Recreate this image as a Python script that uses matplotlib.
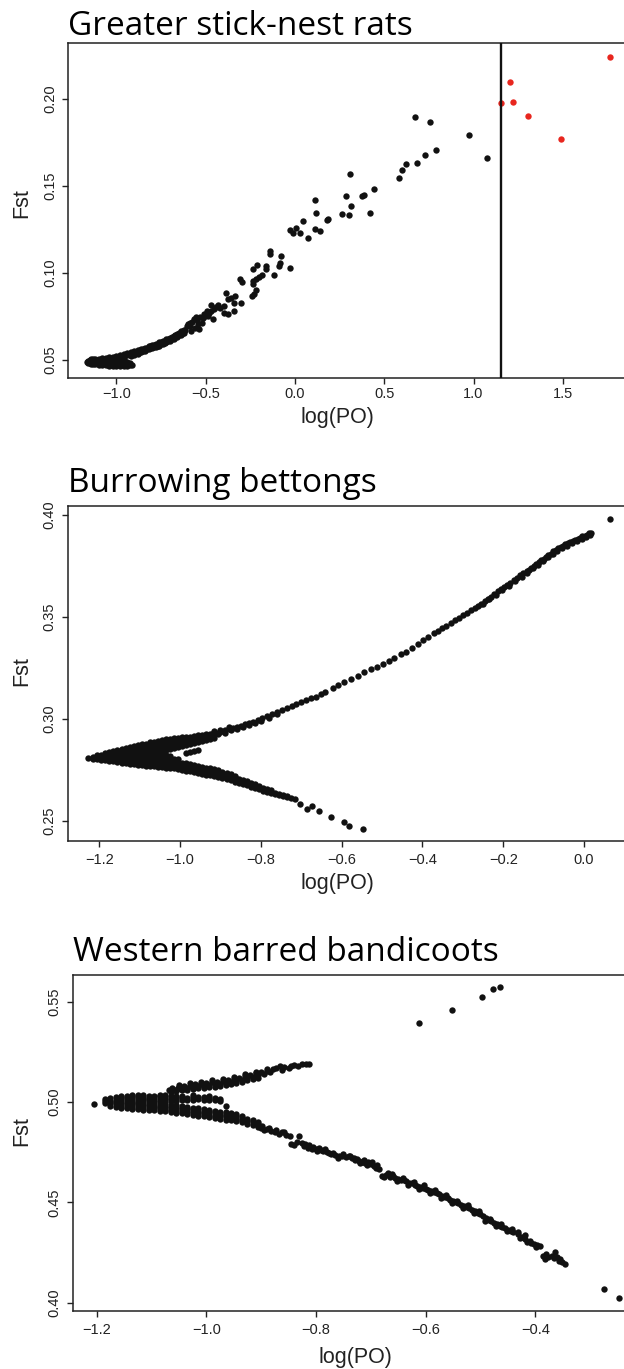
import matplotlib
matplotlib.use("Agg")
import matplotlib.pyplot as plt

# ---- Greater stick-nest rats ----
rats_vline = 1.152
rats_red = [(1.766, 0.2243), (1.206, 0.2098), (1.153, 0.1975), (1.220, 0.1981),
            (1.306, 0.1903), (1.489, 0.1771)]
rats_scatter = [
    (0.673, 0.1897), (0.757, 0.1867), (0.976, 0.1792), (1.077, 0.1662), (0.789, 0.1708),
    (0.727, 0.1681), (0.681, 0.1634), (0.622, 0.1629), (0.602, 0.1595), (0.580, 0.1544),
    (0.309, 0.1570), (0.442, 0.1486), (0.384, 0.1451), (0.376, 0.1442), (0.287, 0.1446),
    (0.316, 0.1385), (0.262, 0.1340), (0.300, 0.1334), (0.418, 0.1348), (0.113, 0.1421),
    (0.120, 0.1348), (0.184, 0.1309), (0.182, 0.1304), (0.044, 0.1298), (0.111, 0.1256),
    (0.142, 0.1240), (0.007, 0.1257), (-0.029, 0.1248), (-0.013, 0.1231), (0.029, 0.1231),
    (0.071, 0.1204), (-0.142, 0.1127), (-0.138, 0.1109), (-0.076, 0.1096), (-0.082, 0.1056),
    (-0.087, 0.1042), (-0.027, 0.1029), (-0.118, 0.0990), (-0.160, 0.1042), (-0.164, 0.1021),
    (-0.213, 0.1046), (-0.236, 0.1025), (-0.184, 0.0988), (-0.200, 0.0975), (-0.216, 0.0965),
    (-0.238, 0.0952), (-0.236, 0.0938), (-0.307, 0.0965), (-0.298, 0.0950), (-0.220, 0.0902),
    (-0.229, 0.0879), (-0.242, 0.0869), (-0.338, 0.0871), (-0.360, 0.0856), (-0.300, 0.0827),
    (-0.344, 0.0827), (-0.387, 0.0888), (-0.378, 0.0850), (-0.471, 0.0817), (-0.431, 0.0817),
    (-0.400, 0.0811), (-0.418, 0.0798), (-0.396, 0.0769), (-0.344, 0.0782), (-0.373, 0.0763),
    (-0.493, 0.0782), (-0.511, 0.0767), (-0.489, 0.0754), (-0.462, 0.0734), (-0.556, 0.0748),
    (-0.522, 0.0715), (-0.544, 0.0709), (-0.589, 0.0713), (-0.604, 0.0696), (-0.560, 0.0682),
    (-0.538, 0.0677), (-0.582, 0.0667), (-0.618, 0.0671), (-0.600, 0.0706), (-0.590, 0.0694),
    (-0.575, 0.0722), (-0.565, 0.0739), (-0.548, 0.0729), (-0.530, 0.0746), (-0.515, 0.0742),
    (-0.505, 0.0756), (-0.480, 0.0769), (-0.470, 0.0784), (-0.455, 0.0794), (-0.445, 0.0806),
]
rats_blob = [
    (-1.165, [0.0490]),
    (-1.16, [0.0485, 0.0497]),
    (-1.15, [0.0483, 0.0495, 0.0503]),
    (-1.14, [0.0480, 0.0492, 0.0504]),
    (-1.13, [0.0478, 0.0490, 0.0502, 0.0507]),
    (-1.12, [0.0476, 0.0488, 0.0500, 0.0508]),
    (-1.10, [0.0473, 0.0485, 0.0497, 0.0509]),
    (-1.08, [0.0471, 0.0483, 0.0495, 0.0507, 0.0512]),
    (-1.06, [0.0470, 0.0482, 0.0494, 0.0506, 0.0514]),
    (-1.04, [0.0469, 0.0481, 0.0493, 0.0505, 0.0516]),
    (-1.02, [0.0469, 0.0481, 0.0493, 0.0505, 0.0518]),
    (-1.00, [0.0469, 0.0481, 0.0493, 0.0505, 0.0517, 0.0522]),
    (-0.98, [0.0469, 0.0481, 0.0493, 0.0505, 0.0517, 0.0527]),
    (-0.96, [0.0469, 0.0481, 0.0493, 0.0507, 0.0521, 0.0533]),
    (-0.94, [0.0469, 0.0481, 0.0492, 0.0530, 0.0540]),
    (-0.925, [0.0470, 0.0481]),
    (-0.915, [0.0473]),
]
rats_band = [
    (-0.92, [0.0526, 0.0535, 0.0544]), (-0.91, [0.0533, 0.0543]),
    (-0.90, [0.0532, 0.0541, 0.0550]), (-0.89, [0.0539, 0.0549]),
    (-0.88, [0.0538, 0.0547, 0.0556]), (-0.87, [0.0546, 0.0556]),
    (-0.86, [0.0546, 0.0555, 0.0564]), (-0.85, [0.0554, 0.0564]),
    (-0.84, [0.0554, 0.0563, 0.0572]), (-0.83, [0.0562, 0.0572]),
    (-0.82, [0.0562, 0.0571, 0.0580]), (-0.81, [0.0569, 0.0579]),
    (-0.80, [0.0569, 0.0578, 0.0587]), (-0.79, [0.0576, 0.0586]),
    (-0.78, [0.0576, 0.0585, 0.0594]), (-0.77, [0.0584, 0.0594]),
    (-0.76, [0.0584, 0.0593, 0.0602]), (-0.75, [0.0592, 0.0602]),
    (-0.74, [0.0593, 0.0602, 0.0611]), (-0.73, [0.0601, 0.0611]),
    (-0.72, [0.0602, 0.0611, 0.0620]), (-0.71, [0.0611, 0.0621]),
    (-0.70, [0.0612, 0.0621, 0.0630]), (-0.69, [0.0621, 0.0632]),
    (-0.68, [0.0623, 0.0632, 0.0641]), (-0.67, [0.0633, 0.0644]),
    (-0.66, [0.0635, 0.0644, 0.0653]), (-0.65, [0.0645, 0.0656]),
    (-0.64, [0.0647, 0.0656, 0.0665]), (-0.63, [0.0656, 0.0667]),
    (-0.62, [0.0658, 0.0667, 0.0676]),
]

# ---- Burrowing bettongs ----
bett_outlier = [(0.065, 0.3979)]
bett_upper = [
    (0.018, 0.3915), (0.012, 0.3912), (0.008, 0.3903), (0.002, 0.3900), (-0.004, 0.3896),
    (-0.010, 0.3888), (-0.016, 0.3885), (-0.022, 0.3878), (-0.028, 0.3873), (-0.034, 0.3868),
    (-0.040, 0.3862), (-0.046, 0.3858), (-0.052, 0.3850), (-0.058, 0.3842), (-0.064, 0.3838),
    (-0.070, 0.3828), (-0.076, 0.3822), (-0.082, 0.3812), (-0.088, 0.3806), (-0.094, 0.3796),
    (-0.100, 0.3786), (-0.106, 0.3778), (-0.112, 0.3768), (-0.118, 0.3760), (-0.124, 0.3750),
    (-0.130, 0.3740), (-0.136, 0.3733), (-0.142, 0.3724), (-0.150, 0.3714), (-0.158, 0.3705),
    (-0.166, 0.3692), (-0.174, 0.3680), (-0.182, 0.3668), (-0.190, 0.3657), (-0.198, 0.3646),
    (-0.206, 0.3636), (-0.214, 0.3626), (-0.222, 0.3614), (-0.230, 0.3600), (-0.238, 0.3590),
    (-0.246, 0.3578), (-0.254, 0.3566), (-0.262, 0.3557), (-0.270, 0.3546), (-0.280, 0.3535),
    (-0.290, 0.3522), (-0.300, 0.3509), (-0.310, 0.3497), (-0.320, 0.3484), (-0.330, 0.3472),
    (-0.342, 0.3458), (-0.352, 0.3446), (-0.362, 0.3432), (-0.372, 0.3420), (-0.385, 0.3402),
    (-0.398, 0.3387), (-0.410, 0.3370), (-0.425, 0.3348), (-0.440, 0.3330), (-0.452, 0.3318),
    (-0.470, 0.3300), (-0.482, 0.3287), (-0.498, 0.3272), (-0.512, 0.3257), (-0.528, 0.3245),
    (-0.545, 0.3230), (-0.560, 0.3210), (-0.578, 0.3197), (-0.595, 0.3180), (-0.608, 0.3167),
    (-0.622, 0.3152), (-0.640, 0.3135), (-0.652, 0.3122), (-0.664, 0.3110), (-0.676, 0.3102),
    (-0.688, 0.3093), (-0.700, 0.3082), (-0.712, 0.3072), (-0.724, 0.3062), (-0.736, 0.3054),
    (-0.748, 0.3043), (-0.760, 0.3034), (-0.772, 0.3024), (-0.784, 0.3015), (-0.796, 0.3006),
    (-0.808, 0.2997), (-0.820, 0.2988), (-0.830, 0.2981), (-0.840, 0.2975), (-0.850, 0.2968),
    (-0.860, 0.2962), (-0.870, 0.2956), (-0.880, 0.2950), (-0.890, 0.2944), (-0.900, 0.2938),
    (-0.910, 0.2932), (-0.920, 0.2926),
    (0.014, 0.3904), (0.004, 0.3892), (-0.006, 0.3882), (-0.018, 0.3872), (-0.030, 0.3862),
    (-0.042, 0.3850), (-0.054, 0.3838), (-0.066, 0.3826), (-0.078, 0.3810), (-0.090, 0.3795),
    (-0.102, 0.3775), (-0.114, 0.3757), (-0.126, 0.3740), (-0.140, 0.3716), (-0.154, 0.3698),
    (-0.170, 0.3676), (-0.186, 0.3652), (-0.202, 0.3632), (-0.218, 0.3610), (-0.234, 0.3588),
    (-0.250, 0.3566), (-0.760, 0.3024), (-0.780, 0.3006), (-0.800, 0.2990), (-0.815, 0.2980),
    (-0.830, 0.2972), (-0.845, 0.2962), (-0.860, 0.2953), (-0.875, 0.2945), (-0.890, 0.2934),
    (-0.905, 0.2925), (-0.918, 0.2915), (-0.880, 0.2962), (-0.900, 0.2948), (-0.915, 0.2940),
]
bett_blob = [
    (-1.228, [0.2807]),
    (-1.215, [0.2806, 0.2816]),
    (-1.205, [0.2803, 0.2815, 0.2824]),
    (-1.195, [0.2800, 0.2812, 0.2824]),
    (-1.185, [0.2798, 0.2810, 0.2822, 0.2832]),
    (-1.175, [0.2796, 0.2808, 0.2820, 0.2832, 0.2840]),
    (-1.165, [0.2793, 0.2805, 0.2817, 0.2829, 0.2841]),
    (-1.155, [0.2790, 0.2802, 0.2814, 0.2826, 0.2838, 0.2848]),
    (-1.145, [0.2787, 0.2799, 0.2811, 0.2823, 0.2835, 0.2847, 0.2854]),
    (-1.135, [0.2784, 0.2796, 0.2808, 0.2820, 0.2832, 0.2844, 0.2856]),
    (-1.125, [0.2781, 0.2793, 0.2805, 0.2817, 0.2829, 0.2841, 0.2853, 0.2862]),
    (-1.115, [0.2778, 0.2790, 0.2802, 0.2814, 0.2826, 0.2838, 0.2850, 0.2862, 0.2868]),
    (-1.105, [0.2776, 0.2788, 0.2800, 0.2812, 0.2824, 0.2836, 0.2848, 0.2860, 0.2872]),
    (-1.095, [0.2774, 0.2786, 0.2798, 0.2810, 0.2822, 0.2834, 0.2846, 0.2858, 0.2870, 0.2878]),
    (-1.085, [0.2772, 0.2784, 0.2796, 0.2808, 0.2820, 0.2832, 0.2844, 0.2856, 0.2868, 0.2880]),
    (-1.075, [0.2770, 0.2782, 0.2794, 0.2806, 0.2818, 0.2830, 0.2842, 0.2854, 0.2866, 0.2878, 0.2886]),
    (-1.065, [0.2768, 0.2780, 0.2792, 0.2804, 0.2816, 0.2828, 0.2840, 0.2852, 0.2864, 0.2876, 0.2888]),
    (-1.055, [0.2766, 0.2778, 0.2790, 0.2802, 0.2814, 0.2826, 0.2838, 0.2850, 0.2862, 0.2874, 0.2886, 0.2894]),
    (-1.045, [0.2764, 0.2776, 0.2788, 0.2800, 0.2812, 0.2824, 0.2836, 0.2848, 0.2860, 0.2872, 0.2884, 0.2896]),
    (-1.035, [0.2762, 0.2774, 0.2786, 0.2798, 0.2810, 0.2822, 0.2846, 0.2858, 0.2870, 0.2882, 0.2894, 0.2902]),
    (-1.025, [0.2760, 0.2772, 0.2784, 0.2796, 0.2808, 0.2820, 0.2852, 0.2864, 0.2876, 0.2888, 0.2900]),
    (-1.015, [0.2758, 0.2770, 0.2782, 0.2794, 0.2806, 0.2858, 0.2870, 0.2882, 0.2894, 0.2905]),
    (-1.005, [0.2755, 0.2767, 0.2779, 0.2791, 0.2802, 0.2862, 0.2874, 0.2886, 0.2898, 0.2908]),
    (-0.995, [0.2750, 0.2762, 0.2774, 0.2787, 0.2868, 0.2880, 0.2892, 0.2904, 0.2912]),
    (-0.985, [0.2747, 0.2759, 0.2771, 0.2784, 0.2835, 0.2874, 0.2886, 0.2898, 0.2910]),
    (-0.975, [0.2744, 0.2756, 0.2768, 0.2781, 0.2838, 0.2878, 0.2890, 0.2902, 0.2914]),
    (-0.965, [0.2740, 0.2752, 0.2764, 0.2777, 0.2842, 0.2884, 0.2896, 0.2908, 0.2918]),
    (-0.955, [0.2736, 0.2748, 0.2760, 0.2772, 0.2848, 0.2888, 0.2900, 0.2912, 0.2920]),
    (-0.945, [0.2732, 0.2744, 0.2756, 0.2767, 0.2892, 0.2904, 0.2916, 0.2924]),
    (-0.935, [0.2728, 0.2740, 0.2752, 0.2762, 0.2896, 0.2908, 0.2920, 0.2928]),
    (-0.925, [0.2724, 0.2736, 0.2748, 0.2758, 0.2902, 0.2914, 0.2926]),
    (-0.915, [0.2720, 0.2732, 0.2744, 0.2753, 0.2907, 0.2920, 0.2930]),
]
bett_lower = [
    (-0.905, [0.2716, 0.2727, 0.2738, 0.2748]), (-0.895, [0.2711, 0.2722, 0.2733, 0.2742]),
    (-0.885, [0.2705, 0.2716, 0.2727, 0.2736]), (-0.875, [0.2699, 0.2710, 0.2721, 0.2729]),
    (-0.865, [0.2693, 0.2704, 0.2715, 0.2722]), (-0.855, [0.2688, 0.2698, 0.2708]),
    (-0.845, [0.2681, 0.2691, 0.2701]), (-0.835, [0.2675, 0.2685, 0.2695]),
    (-0.825, [0.2668, 0.2678, 0.2688]), (-0.815, [0.2662, 0.2671, 0.2680]),
    (-0.805, [0.2655, 0.2663, 0.2671]), (-0.795, [0.2649, 0.2657, 0.2664]),
    (-0.785, [0.2643, 0.2650, 0.2657]), (-0.775, [0.2638, 0.2644, 0.2650]),
    (-0.765, [0.2632, 0.2638]), (-0.755, [0.2626, 0.2632]),
    (-0.745, [0.2621, 0.2627]), (-0.735, [0.2616, 0.2621]),
    (-0.725, [0.2611]), (-0.715, [0.2606]),
]
bett_tail = [(-0.702, 0.2582), (-0.687, 0.2557), (-0.673, 0.2574), (-0.655, 0.2549),
             (-0.626, 0.2521), (-0.594, 0.2493), (-0.581, 0.2477), (-0.548, 0.2461)]

# ---- Western barred bandicoots ----
band_outliers = [(-0.464, 0.5575), (-0.477, 0.5565), (-0.497, 0.5525), (-0.551, 0.5457),
                 (-0.612, 0.5392), (-0.274, 0.4070), (-0.248, 0.4022)]
band_blob = [
    (-1.205, [0.4988]),
    (-1.185, [0.4994, 0.5006, 0.5016]),
    (-1.175, [0.4982, 0.4994, 0.5006, 0.5018]),
    (-1.165, [0.4976, 0.4988, 0.5000, 0.5012, 0.5024]),
    (-1.155, [0.4972, 0.4984, 0.4996, 0.5008, 0.5020, 0.5030]),
    (-1.145, [0.4970, 0.4982, 0.4994, 0.5006, 0.5018, 0.5030]),
    (-1.135, [0.4966, 0.4978, 0.4990, 0.5002, 0.5014, 0.5026, 0.5034]),
    (-1.125, [0.4964, 0.4976, 0.4988, 0.5000, 0.5012, 0.5024, 0.5034]),
    (-1.115, [0.4962, 0.4974, 0.4986, 0.4998, 0.5010, 0.5022, 0.5034]),
    (-1.105, [0.4960, 0.4972, 0.4984, 0.4996, 0.5008, 0.5020, 0.5032]),
    (-1.095, [0.4958, 0.4970, 0.4982, 0.4994, 0.5006, 0.5018, 0.5030]),
    (-1.085, [0.4956, 0.4968, 0.4980, 0.4992, 0.5004, 0.5016, 0.5028, 0.5036]),
    (-1.075, [0.4953, 0.4965, 0.4977, 0.4989, 0.5001, 0.5013, 0.5025, 0.5034]),
    (-1.065, [0.4950, 0.4962, 0.4974, 0.4986, 0.5004, 0.5016, 0.5028]),
    (-1.055, [0.4947, 0.4959, 0.4971, 0.4983, 0.5006, 0.5018, 0.5030]),
    (-1.045, [0.4944, 0.4956, 0.4968, 0.4980, 0.5008, 0.5020, 0.5030]),
    (-1.035, [0.4940, 0.4952, 0.4964, 0.4976, 0.5010, 0.5022]),
    (-1.025, [0.4936, 0.4948, 0.4960, 0.4972, 0.5012, 0.5024, 0.5034]),
    (-1.015, [0.4932, 0.4944, 0.4956, 0.4968, 0.5013, 0.5025]),
    (-1.005, [0.4928, 0.4940, 0.4952, 0.4964, 0.5012, 0.5024]),
    (-0.995, [0.4924, 0.4936, 0.4948, 0.4960, 0.5010, 0.5022, 0.5030]),
    (-0.985, [0.4920, 0.4932, 0.4944, 0.4956, 0.5008, 0.5020]),
    (-0.975, [0.4916, 0.4928, 0.4940, 0.4952, 0.5005, 0.5016]),
    (-0.965, [0.4912, 0.4924, 0.4936, 0.4948, 0.4980]),
    (-0.955, [0.4908, 0.4920, 0.4932, 0.4944]),
    (-0.945, [0.4904, 0.4916, 0.4928, 0.4938]),
    (-0.935, [0.4898, 0.4910, 0.4922, 0.4932]),
    (-0.925, [0.4892, 0.4904, 0.4916]),
    (-0.915, [0.4886, 0.4898, 0.4908]),
    (-0.905, [0.4876, 0.4888, 0.4898]),
]
band_upper = [
    (-1.068, 0.5062), (-1.062, 0.5070), (-1.058, 0.5060), (-1.052, 0.5072), (-1.046, 0.5064),
    (-1.040, 0.5078), (-1.035, 0.5068), (-1.030, 0.5082), (-1.025, 0.5072), (-1.020, 0.5088),
    (-1.015, 0.5078), (-1.010, 0.5092), (-1.005, 0.5080), (-1.000, 0.5096), (-0.995, 0.5085),
    (-0.990, 0.5098), (-0.985, 0.5088), (-0.980, 0.5102), (-0.975, 0.5092), (-0.970, 0.5106),
    (-0.965, 0.5096), (-0.960, 0.5110), (-0.955, 0.5100), (-0.950, 0.5115), (-0.945, 0.5106),
    (-0.940, 0.5122), (-0.935, 0.5112), (-0.930, 0.5130), (-0.925, 0.5120), (-0.920, 0.5136),
    (-0.915, 0.5126), (-0.910, 0.5142), (-0.905, 0.5134), (-0.900, 0.5150), (-0.895, 0.5140),
    (-0.890, 0.5155), (-0.884, 0.5148), (-0.878, 0.5162), (-0.872, 0.5170), (-0.866, 0.5180),
    (-0.862, 0.5160), (-0.858, 0.5172), (-0.850, 0.5168), (-0.845, 0.5180), (-0.840, 0.5186),
    (-0.832, 0.5178), (-0.825, 0.5188), (-0.818, 0.5190), (-0.812, 0.5190),
    (-1.065, 0.5052), (-1.055, 0.5055), (-1.045, 0.5058), (-1.035, 0.5060), (-1.025, 0.5064),
    (-1.015, 0.5068), (-1.005, 0.5070), (-0.995, 0.5074), (-0.985, 0.5076), (-0.975, 0.5080),
    (-0.965, 0.5084), (-0.955, 0.5088), (-0.945, 0.5094), (-0.935, 0.5100), (-0.925, 0.5108),
    (-0.915, 0.5114), (-0.905, 0.5120), (-1.050, 0.5084), (-1.030, 0.5094), (-1.010, 0.5102),
    (-0.990, 0.5108), (-0.970, 0.5114), (-0.950, 0.5124), (-0.930, 0.5140), (-0.910, 0.5150),
    (-0.890, 0.5164),
]
band_lower = [
    (-0.900, 0.4868), (-0.895, 0.4858), (-0.890, 0.4866), (-0.882, 0.4855), (-0.875, 0.4848),
    (-0.868, 0.4842), (-0.862, 0.4850), (-0.855, 0.4836), (-0.848, 0.4828), (-0.845, 0.4790),
    (-0.840, 0.4785), (-0.831, 0.4831), (-0.822, 0.4780), (-0.815, 0.4772), (-0.808, 0.4768),
    (-0.800, 0.4765), (-0.795, 0.4772), (-0.788, 0.4758), (-0.780, 0.4750), (-0.772, 0.4740),
    (-0.765, 0.4736), (-0.758, 0.4731), (-0.750, 0.4742), (-0.745, 0.4728), (-0.740, 0.4733),
    (-0.735, 0.4720), (-0.728, 0.4712), (-0.722, 0.4706), (-0.716, 0.4702), (-0.710, 0.4696),
    (-0.705, 0.4702), (-0.700, 0.4690), (-0.695, 0.4680), (-0.690, 0.4672), (-0.685, 0.4668),
    (-0.680, 0.4632), (-0.672, 0.4636), (-0.665, 0.4628), (-0.660, 0.4630), (-0.655, 0.4622),
    (-0.650, 0.4618), (-0.645, 0.4613), (-0.640, 0.4610), (-0.635, 0.4604), (-0.630, 0.4598),
    (-0.625, 0.4595), (-0.620, 0.4588), (-0.615, 0.4582), (-0.610, 0.4578), (-0.605, 0.4572),
    (-0.600, 0.4566), (-0.595, 0.4560), (-0.590, 0.4556), (-0.585, 0.4550), (-0.580, 0.4545),
    (-0.575, 0.4540), (-0.570, 0.4532), (-0.565, 0.4526), (-0.560, 0.4520), (-0.555, 0.4512),
    (-0.550, 0.4505), (-0.545, 0.4500), (-0.540, 0.4494), (-0.535, 0.4488), (-0.530, 0.4482),
    (-0.525, 0.4476), (-0.520, 0.4470), (-0.515, 0.4462), (-0.510, 0.4455), (-0.505, 0.4447),
    (-0.500, 0.4440), (-0.495, 0.4430), (-0.490, 0.4420), (-0.485, 0.4412), (-0.480, 0.4405),
    (-0.475, 0.4398), (-0.470, 0.4390), (-0.465, 0.4384), (-0.460, 0.4377), (-0.455, 0.4370),
    (-0.450, 0.4362), (-0.445, 0.4355), (-0.440, 0.4350), (-0.432, 0.4340), (-0.425, 0.4328),
    (-0.419, 0.4337), (-0.415, 0.4300), (-0.410, 0.4305), (-0.403, 0.4290), (-0.396, 0.4285),
    (-0.392, 0.4282), (-0.382, 0.4219), (-0.376, 0.4226), (-0.370, 0.4233), (-0.363, 0.4252),
    (-0.360, 0.4225), (-0.357, 0.4208), (-0.352, 0.4200), (-0.346, 0.4193),
    (-0.662, 0.4640), (-0.652, 0.4608), (-0.642, 0.4622), (-0.632, 0.4586), (-0.622, 0.4600),
    (-0.612, 0.4568), (-0.602, 0.4584), (-0.592, 0.4545), (-0.582, 0.4560), (-0.572, 0.4520),
    (-0.562, 0.4534), (-0.552, 0.4498), (-0.542, 0.4508), (-0.532, 0.4470), (-0.522, 0.4488),
    (-0.512, 0.4445), (-0.502, 0.4455), (-0.492, 0.4408), (-0.482, 0.4418), (-0.472, 0.4380),
    (-0.462, 0.4392), (-0.452, 0.4358), (-0.442, 0.4366), (-0.712, 0.4710), (-0.720, 0.4696),
    (-0.730, 0.4722), (-0.760, 0.4722), (-0.790, 0.4760), (-0.805, 0.4778), (-0.820, 0.4790),
    (-0.898, 0.4880), (-0.886, 0.4872), (-0.872, 0.4860), (-0.858, 0.4850), (-0.835, 0.4800),
    (-0.826, 0.4795), (-0.812, 0.4784), (-0.798, 0.4755), (-0.784, 0.4764), (-0.776, 0.4745),
    (-0.768, 0.4748), (-0.752, 0.4730), (-0.738, 0.4730), (-0.725, 0.4718), (-0.706, 0.4688),
    (-0.698, 0.4700), (-0.688, 0.4684), (-0.676, 0.4628), (-0.668, 0.4645), (-0.432, 0.4352),
    (-0.428, 0.4320), (-0.418, 0.4315), (-0.408, 0.4295), (-0.398, 0.4275), (-0.386, 0.4230),
    (-0.380, 0.4240), (-0.366, 0.4222), (-0.355, 0.4215),
]

x_ticks = [
    [-1.0, -0.5, 0.0, 0.5, 1.0, 1.5],
    [-1.2, -1.0, -0.8, -0.6, -0.4, -0.2, 0.0],
    [-1.2, -1.0, -0.8, -0.6, -0.4],
]
y_ticks = [
    [0.05, 0.10, 0.15, 0.20],
    [0.25, 0.30, 0.35, 0.40],
    [0.40, 0.45, 0.50, 0.55],
]
titles = ["Greater stick-nest rats", "Burrowing bettongs", "Western barred bandicoots"]


def cols_to_xy(cols):
    xs, ys = [], []
    for x, yl in cols:
        for y in yl:
            xs.append(x)
            ys.append(y)
    return xs, ys


def pairs_to_xy(pairs):
    return [p[0] for p in pairs], [p[1] for p in pairs]


W, H = 624, 1369
fig = plt.figure(figsize=(W / 100, H / 100), dpi=100)

# axes boxes in pixels: left, top, bottom
boxes = [(68, 43.3, 377.7), (67.5, 506, 841), (72.7, 975, 1311)]
xlims = [(-1.2714, 1.8428), (-1.2787, 0.099), (-1.2438, -0.238)]
ylims = [(0.0399, 0.2321), (0.2402, 0.4045), (0.3958, 0.5633)]
title_pos = [(67.6, 35), (67.6, 491.7), (72.8, 961)]
xlab_pos = [(337, 417), (337, 883), (355, 1357)]
ylab_pos = [(22, 203), (22, 671), (22, 1131)]
xpads = [3.0, 5.0, 5.0]

black = "#111111"
red = "#e8261e"
ms = 21

axes = []
for i, (l, t, b) in enumerate(boxes):
    ax = fig.add_axes([l / W, 1 - b / H, (W - l) / W, (b - t) / H])
    ax.set_xlim(*xlims[i])
    ax.set_ylim(*ylims[i])
    ax.set_xticks(x_ticks[i])
    ax.set_xticklabels([f"{v:.1f}".replace("-", "\u2212") for v in x_ticks[i]])
    ax.set_yticks(y_ticks[i])
    ax.set_yticklabels([f"{v:.2f}" for v in y_ticks[i]], rotation=90, va="center")
    ax.tick_params(direction="out", length=4, width=1.0, color="#222222",
                   labelsize=10.5, labelcolor="#222222")
    ax.tick_params(axis="x", pad=xpads[i])
    ax.tick_params(axis="y", pad=4)
    for lab in ax.get_xticklabels() + ax.get_yticklabels():
        lab.set_fontfamily("Liberation Sans")
    ax.spines["right"].set_visible(False)
    for s in ["left", "top", "bottom"]:
        ax.spines[s].set_color("#222222")
        ax.spines[s].set_linewidth(1.1)
    fig.text(title_pos[i][0] / W, 1 - title_pos[i][1] / H, titles[i],
             fontsize=24, family="Open Sans", va="baseline", ha="left")
    fig.text(xlab_pos[i][0] / W, 1 - xlab_pos[i][1] / H, "log(PO)",
             fontsize=15.5, family="Liberation Sans", ha="center", va="center", color="#222222")
    fig.text(ylab_pos[i][0] / W, 1 - ylab_pos[i][1] / H, "Fst", rotation=90,
             fontsize=15.5, family="Liberation Sans", ha="center", va="center", color="#222222")
    axes.append(ax)

# panel 1
ax = axes[0]
for xs, ys in [cols_to_xy(rats_blob), cols_to_xy(rats_band), pairs_to_xy(rats_scatter)]:
    ax.scatter(xs, ys, s=ms, c=black, linewidths=0)
rx, ry = pairs_to_xy(rats_red)
ax.scatter(rx, ry, s=ms, c=red, linewidths=0)
ax.axvline(rats_vline, color=black, lw=1.7, zorder=3)

# panel 2
ax = axes[1]
for xs, ys in [cols_to_xy(bett_blob), cols_to_xy(bett_lower), pairs_to_xy(bett_upper),
               pairs_to_xy(bett_tail), pairs_to_xy(bett_outlier)]:
    ax.scatter(xs, ys, s=ms, c=black, linewidths=0)

# panel 3
ax = axes[2]
for xs, ys in [cols_to_xy(band_blob), pairs_to_xy(band_upper), pairs_to_xy(band_lower),
               pairs_to_xy(band_outliers)]:
    ax.scatter(xs, ys, s=ms, c=black, linewidths=0, clip_on=False)

fig.savefig("out.png", dpi=100, facecolor="white")
